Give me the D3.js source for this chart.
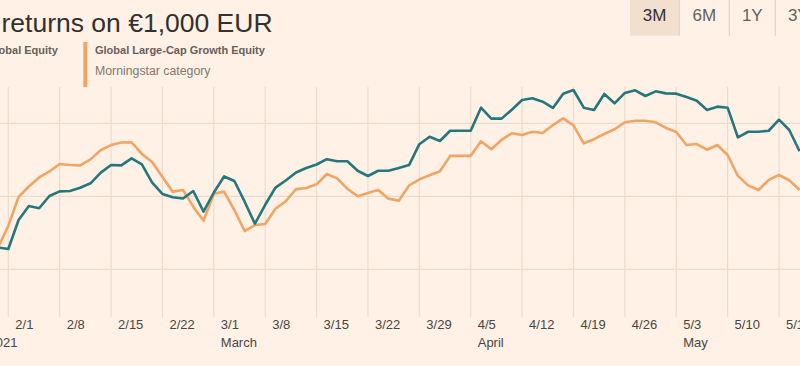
<!DOCTYPE html>
<html>
<head>
<meta charset="utf-8">
<script src="https://cdn.jsdelivr.net/npm/d3@7"></script>
<style>
  html, body { margin: 0; padding: 0; background: #fff1e5; overflow: hidden; }
  svg { display: block; font-family: "Liberation Sans", Arial, sans-serif; }
</style>
</head>
<body>
<svg id="chart" width="800" height="366"></svg>
<script>
// ---------------- DATA ----------------
const startDate = "2021-01-29";           // first business day in the series
const seriesNames = ["Global Equity", "Global Large-Cap Growth Equity"];
const seriesSubs = ["", "Morningstar category"];
const title = "returns on €1,000 EUR";
const periodButtons = ["3M", "6M", "1Y", "3Y"];

// Global Equity (teal) – one value per business day from 29 Jan 2021
const globalEquity = [
  1015.0,
  1013.9, 1033.8, 1043.4, 1041.8, 1050.2,
  1053.4, 1053.6, 1055.9, 1058.9, 1066.2,
  1071.4, 1071.2, 1076.0, 1071.9, 1059.3,
  1051.6, 1049.3, 1048.5, 1053.6, 1039.5,
  1052.6, 1063.6, 1060.5, 1046.3, 1031.2,
  1044.2, 1055.9, 1060.8, 1066.3, 1069.4,
  1071.8, 1075.4, 1074.0, 1074.0, 1067.5,
  1063.9, 1067.5, 1067.5, 1069.4, 1071.4,
  1085.7, 1090.8, 1087.9, 1094.9, 1094.9,
  1094.9, 1110.7, 1103.2, 1103.2, 1109.3,
  1116.0, 1117.1, 1114.8, 1110.5, 1120.3,
  1122.8, 1110.7, 1109.1, 1120.1, 1113.7,
  1120.8, 1122.6, 1118.7, 1121.9, 1120.5,
  1120.3, 1118.0, 1115.5, 1109.1, 1111.4,
  1110.7, 1090.4, 1094.2, 1094.2, 1094.9,
  1102.5, 1095.4, 1080.9
];

// Global Large-Cap Growth Equity (orange)
const largeCapGrowth = [
  1015.0,
  1029.7, 1049.5, 1056.7, 1062.9, 1067.0,
  1072.1, 1071.4, 1071.2, 1075.3, 1081.7,
  1085.1, 1086.8, 1087.0, 1079.0, 1073.5,
  1063.2, 1053.2, 1054.3, 1042.9, 1033.2,
  1051.7, 1053.2, 1040.6, 1026.2, 1030.3,
  1031.0, 1041.5, 1046.6, 1054.9, 1055.7,
  1058.2, 1065.3, 1062.3, 1055.1, 1050.0,
  1052.3, 1054.3, 1048.4, 1046.9, 1057.4,
  1061.6, 1064.4, 1067.1, 1077.7, 1077.7,
  1077.7, 1087.7, 1082.2, 1088.6, 1093.2,
  1092.0, 1094.2, 1093.4, 1098.8, 1103.4,
  1098.6, 1086.3, 1089.1, 1092.7, 1095.9,
  1100.7, 1101.7, 1101.7, 1100.7, 1096.8,
  1094.0, 1085.1, 1085.8, 1081.9, 1085.1,
  1078.3, 1064.0, 1057.5, 1054.3, 1061.2,
  1064.6, 1061.0, 1054.3
];

const tickLabels = ["2/1","2/8","2/15","2/22","3/1","3/8","3/15","3/22","3/29",
                    "4/5","4/12","4/19","4/26","5/3","5/10","5/17"];
const monthLabels = [["1/25","Jan 2021"],["3/1","March"],["4/5","April"],["5/3","May"]];
const yGridValues = [1000, 1050, 1100];

// ---------------- HELPERS ----------------
const parse = d3.timeParse("%Y-%m-%d");
const t0 = parse(startDate);
function labelToDate(l) { const [m, d] = l.split("/").map(Number); return new Date(2021, m - 1, d); }
function isBiz(d) { const w = d.getDay(); return w !== 0 && w !== 6; }
// business-day index relative to startDate (negative before it)
function bizIndex(date) {
  let n = 0;
  if (date >= t0) { for (let d = d3.timeDay.offset(t0, 1); d <= date; d = d3.timeDay.offset(d, 1)) if (isBiz(d)) n++; }
  else { for (let d = d3.timeDay.offset(t0, -1); d >= date; d = d3.timeDay.offset(d, -1)) if (isBiz(d)) n--; }
  return n;
}

// ---------------- SCALES ----------------
const x = d3.scaleLinear()
  .domain([bizIndex(labelToDate("2/1")), bizIndex(labelToDate("5/17"))])
  .range([8.3, 779]);
const y = d3.scaleLinear().domain([1000, 1100]).range([269.3, 123.3]);
const plotTop = 87, plotBottom = 317;

const svg = d3.select("#chart");
const C = { bg: "#fff1e5", grid: "#ebdccf", teal: "#25777c", orange: "#f2a462",
            dark: "#33302e", mid: "#66605c", light: "#807973", btn: "#f2dfce", sep: "#e3d5c8" };

// ---------------- GRID ----------------
const gGrid = svg.append("g");
gGrid.selectAll("line.h").data(yGridValues).join("line")
  .attr("x1", 0).attr("x2", 800)
  .attr("y1", d => y(d)).attr("y2", d => y(d))
  .attr("stroke", C.grid).attr("stroke-width", 1.2);

const tickDates = tickLabels.map(labelToDate);
gGrid.selectAll("line.v").data(tickDates).join("line")
  .attr("x1", d => x(bizIndex(d))).attr("x2", d => x(bizIndex(d)))
  .attr("y1", plotTop).attr("y2", plotBottom)
  .attr("stroke", C.grid).attr("stroke-width", 1.2);

// ---------------- AXIS LABELS ----------------
const gAx = svg.append("g").attr("font-size", 13).attr("fill", "#4a4542");
gAx.selectAll("text.t").data(tickLabels).join("text")
  .attr("x", d => x(bizIndex(labelToDate(d))) + 7)
  .attr("y", 328.5)
  .text(d => d);
gAx.selectAll("text.m").data(monthLabels).join("text")
  .attr("x", d => x(bizIndex(labelToDate(d[0]))) + 7)
  .attr("y", 346.5)
  .text(d => d[1]);

// ---------------- LINES ----------------
const line = d3.line().x((d, i) => x(i)).y(d => y(d));
svg.append("path").datum(largeCapGrowth)
  .attr("d", line).attr("fill", "none")
  .attr("stroke", C.orange).attr("stroke-width", 2.6).attr("stroke-linejoin", "round");
svg.append("path").datum(globalEquity)
  .attr("d", line).attr("fill", "none")
  .attr("stroke", C.teal).attr("stroke-width", 2.6).attr("stroke-linejoin", "round");

// ---------------- TITLE & LEGEND ----------------
svg.append("text").attr("x", 1.5).attr("y", 31.7)
  .attr("font-size", 26.5).attr("fill", C.dark).text(title);

const legend = [
  { name: seriesNames[0], sub: seriesSubs[0], color: C.teal, x: -13 },
  { name: seriesNames[1], sub: seriesSubs[1], color: C.orange, x: 95 }
];
legend.forEach(l => {
  svg.append("rect").attr("x", l.x - 11.7).attr("y", 42).attr("width", 4).attr("height", 45)
    .attr("fill", l.color);
  svg.append("text").attr("x", l.x).attr("y", 54).attr("font-size", 11)
    .attr("font-weight", "bold").attr("fill", C.mid).text(l.name);
  if (l.sub) svg.append("text").attr("x", l.x).attr("y", 75).attr("font-size", 12.3)
    .attr("fill", C.light).text(l.sub);
});

// ---------------- PERIOD BUTTONS ----------------
const btnW = [49.3, 50, 46, 46];
let bx = 630;
periodButtons.forEach((b, i) => {
  const w = btnW[i];
  if (i === 0) svg.append("rect").attr("x", bx).attr("y", 0).attr("width", w).attr("height", 35.7).attr("fill", C.btn);
  if (i > 0) svg.append("line").attr("x1", bx).attr("x2", bx).attr("y1", 0).attr("y2", 35.7)
    .attr("stroke", C.sep).attr("stroke-width", 1.3);
  svg.append("text").attr("x", bx + w / 2).attr("y", 20.5).attr("text-anchor", "middle")
    .attr("font-size", 17).attr("fill", i === 0 ? C.dark : C.mid).text(b);
  bx += w;
});
</script>
</body>
</html>
